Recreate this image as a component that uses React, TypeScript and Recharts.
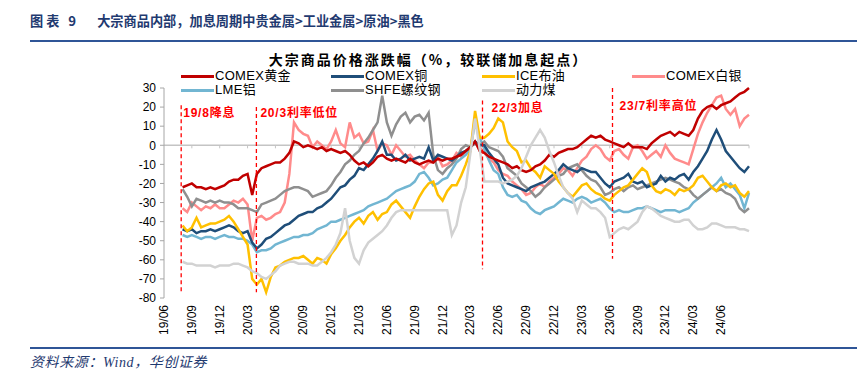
import { LineChart, Line, XAxis, YAxis, ReferenceLine } from "recharts";

// x = months after 2019-06; one point every half month from 2019-08 on
const START_MONTH = 2;
const STEP = 0.5;

const gold = [
  -22, -21, -20, -22, -22, -23, -22, -23, -22, -21, -19, -18,
  -18, -16, -15, -26, -15, -12, -11, -10, -9, -9, -7, -4,
  2, 1, -1, 0, -1, -2, -1, -3, -2, -3, -4, -3,
  -5, -8, -10, -9, -11, -9, -6, -5, -7, -8, -7, -8,
  -9, -7, -9, -10, -9, -8, -9, -7, -8, -7, -7, -6,
  -5, -3, -1, 2, -3, -4, -6, -7, -8, -9, -10, -12,
  -11, -13, -14, -13, -11, -10, -8, -5, -6, -4, -3, -2,
  -2, -1, 1, 3, 5, 4, 5, 3, 2, 1, 0, -1,
  1, -1, -1, -1, -2, 1, 3, 5, 6, 7, 5, 7,
  6, 5, 8, 14, 18, 20, 21, 19, 21, 22, 23, 25,
  27, 28, 30,
];

const copper = [
  -44, -45, -44, -46, -45, -45, -44, -45, -44, -43, -42, -43,
  -45, -46, -45, -51, -54, -52, -49, -48, -46, -44, -42, -41,
  -39, -37, -36, -35, -35, -33, -32, -30, -28, -25, -22, -21,
  -18, -16, -12, -13, -10, -7, -3, 2, -5, -5, -8, -7,
  -5, -8, -7, -6, -7, -1, -8, -5, -6, -7, -8, -6,
  -4, -3, -1, 2, 0, 0, -4, -7, -10, -17, -20, -21,
  -22, -23, -24, -22, -21, -20, -19, -17, -15, -13, -10, -12,
  -13, -14, -12, -13, -14, -14, -17, -20, -22, -19, -18, -17,
  -15, -19, -20, -19, -22, -21, -20, -16, -19, -17, -18, -16,
  -15, -18, -14, -11, -7, -3, 3, 8, 3, -3, -6, -9,
  -12, -14, -11,
];

const brent = [
  -42, -45, -43, -38, -43, -42, -41, -41, -40, -39, -37, -40,
  -44, -48, -52, -70, -73, -70, -77, -69, -64, -63, -61, -60,
  -59, -59, -58, -60, -62, -59, -60, -62, -57, -54, -50, -47,
  -43, -40, -38, -41, -37, -35, -39, -36, -35, -31, -29, -32,
  -35, -38, -32, -27, -23, -20, -19, -26, -29, -24, -21, -21,
  -16, -10, -3, 18, 4, 4, 6, 9, 14, 12, 2, -1,
  -3, -9, -8, -12, -14, -17, -11, -13, -15, -19, -22, -25,
  -27, -24, -21, -20, -23, -25, -26, -28, -29, -26, -24, -22,
  -21, -18, -15, -12, -14, -21, -24, -25, -23, -24, -26, -23,
  -24, -23, -21, -17, -16, -19, -22, -24, -21, -20, -22, -21,
  -25, -27, -24,
];

const silver = [
  -33, -35, -30, -32, -34, -32, -33, -31, -33, -33, -31, -29,
  -30, -28, -31, -50, -38, -37, -39, -38, -36, -35, -30, -15,
  12, 8, 6, 5, -1, 2, 0, -2, 2, 8, 1, -1,
  12, 4, 6, 1, 2, 8, -3, 1, 0, -5, 0, -3,
  -6, -5, -8, -10, -12, -9, -9, -6, -11, -10, -8, -4,
  -6, -3, -1, 2, -1, -4, -7, -9, -13, -15, -16, -19,
  -21, -23, -26, -25, -22, -20, -22, -19, -17, -15, -12, -13,
  -16, -12, -8, -6, -2, 0, -2, -6, -8, -3, -2, -5,
  -7, -1, 0, -3, -7, -5, -3, -6, 0, -4, -7, -8,
  -9, -10, -2, 6, 12, 17, 21, 25, 26, 19, 16, 19,
  10, 14, 16,
];

const aluminium = [
  -47, -48, -47, -48, -49, -48, -48, -49, -48, -47, -48, -48,
  -49, -49, -50, -52, -56, -55, -55, -54, -52, -51, -50, -49,
  -48, -48, -47, -47, -46, -44, -43, -42, -40, -40, -39, -38,
  -37, -36, -35, -34, -32, -31, -30, -29, -28, -26, -24, -23,
  -22, -21, -19, -15, -14, -17, -21, -20, -18, -17, -13, -9,
  -7, -5, -2, 12, 4, -2, -8, -13, -15, -22, -26, -27,
  -26, -29, -30, -33, -35, -36, -34, -33, -32, -30, -28, -29,
  -30, -28, -27, -28, -30, -29, -28, -30, -33, -35, -34, -35,
  -35, -34, -33, -33, -32, -33, -34, -35, -34, -34, -34, -35,
  -34, -33, -30, -28, -26, -24, -22, -20, -17, -22, -20, -23,
  -26, -33, -25,
];

const rebar = [
  -23, -27, -32, -28, -29, -30, -29, -30, -29, -30, -30, -31,
  -33, -33, -33, -34, -35, -31, -30, -29, -28, -26, -24, -23,
  -22, -22, -23, -24, -27, -26, -25, -24, -21, -17, -14, -10,
  -8, -5, -3, 1, 4, 8, 12, 26, 12, 5, 11, 15,
  17, 12, 15, 16, 13, 17, -5, -13, -15, -12, -10, -7,
  -2, 0, -1, 1, 0, 2, -1, -2, -3, -6, -12, -14,
  -16, -20, -22, -24, -27, -25, -22, -20, -18, -16, -15, -12,
  -11, -10, -13, -16, -18, -19, -22, -26, -25, -23, -22, -24,
  -22, -21, -23, -22, -21, -20, -19, -18, -17, -18, -19, -20,
  -22, -23, -26, -28, -26, -24, -22, -24, -23, -25, -26, -28,
  -33, -35, -33,
];

const coal = [
  -61, -62, -62, -63, -63, -63, -63, -64, -63, -63, -63, -62,
  -62, -63, -64, -66, -67, -69, -70, -68, -66, -63, -62, -61,
  -61, -62, -62, -62, -63, -63, -61, -59, -56, -52, -46, -33,
  -50, -59, -62, -55, -51, -49, -47, -45, -42, -38, -35, -34,
  -34, -34, -34, -34, -34, -34, -34, -34, -34, -34, -47, -42,
  -30, -22, -4, 14, -2, -19, -19, -19, -19, -20, -19, -18,
  -16, -12, -6, 0, 4, 8, 4, -3, -9, -16, -22, -25,
  -28, -35, -29, -31, -33, -33, -35, -38, -48, -46, -44, -43,
  -44, -42, -40, -35, -32, -33, -35, -37, -38, -39, -40, -40,
  -39, -39, -42, -44, -44, -43, -41, -41, -42, -43, -43, -43,
  -44, -44, -45,
];

const yTicks = [-80, -70, -60, -50, -40, -30, -20, -10, 0, 10, 20, 30];
const xTicks = [0, 3, 6, 9, 12, 15, 18, 21, 24, 27, 30, 33, 36, 39, 42, 45, 48, 51, 54, 57, 60];
const zeroTicks = [3, 6, 9, 12, 15, 18, 21, 24, 27, 30, 33, 36, 39, 42, 45, 48, 51, 54, 57, 60, 63];

// Fed events: position (months after 2019-06), label, dashed line extent
const eventAt = [1.85, 9.95, 34.3, 48.3];
const eventText = ["19/8降息", "20/3利率低位", "22/3加息", "23/7利率高位"];
const eventTop = [21, 20, 23.5, 30];
const eventBottom = [-78, -77, -65, -59.5];
const eventLabelOffset = [
  [2, 8],
  [4, 6],
  [9, 8],
  [7, 18],
];

const series = [
  { key: "gold", name: "COMEX黄金", color: "#C00000", values: gold },
  { key: "copper", name: "COMEX铜", color: "#1F4E79", values: copper },
  { key: "brent", name: "ICE布油", color: "#FFC000", values: brent },
  { key: "silver", name: "COMEX白银", color: "#FF8B8B", values: silver },
  { key: "aluminium", name: "LME铝", color: "#72B6D2", values: aluminium },
  { key: "rebar", name: "SHFE螺纹钢", color: "#8F8F8F", values: rebar },
  { key: "coal", name: "动力煤", color: "#D2D2D2", values: coal },
];

// bottom to top
const drawOrder = ["silver", "aluminium", "rebar", "copper", "brent", "gold", "coal"];

const rows = gold.map((_, i) => {
  const row: Record<string, number> = { t: START_MONTH + i * STEP };
  series.forEach((s) => {
    row[s.key] = s.values[i];
  });
  return row;
});

const FONT = '"Liberation Sans", Arial, "Noto Sans CJK SC", sans-serif';
const NAVY = "#1F3A70";

function monthLabel(m: number) {
  const total = 5 + m;
  const yy = 19 + Math.floor(total / 12);
  const mm = (total % 12) + 1;
  return `${yy}/${mm < 10 ? "0" + mm : mm}`;
}

function DateTick(props: any) {
  const { x, y, payload } = props;
  return (
    <text
      x={x}
      y={y}
      transform={`rotate(-90 ${x} ${y})`}
      textAnchor="end"
      dominantBaseline="central"
      fontSize={12}
      fontFamily={FONT}
      fill="#000"
    >
      {monthLabel(payload.value)}
    </text>
  );
}

function EventLabel(props: any) {
  const { viewBox, text, dx, dy } = props;
  if (!viewBox) return null;
  return (
    <text
      x={viewBox.x + dx}
      y={viewBox.y + dy}
      fill="#FF0000"
      fontSize={12}
      fontWeight="bold"
      letterSpacing={0.8}
      dominantBaseline="central"
      fontFamily={FONT}
    >
      {text}
    </text>
  );
}

const legendCols = [181, 331, 482, 632];
const legendRows = [76, 90];

export default function App() {
  return (
    <div
      style={{
        position: "absolute",
        left: 0,
        top: 0,
        width: 857,
        height: 370,
        background: "#fff",
        fontFamily: FONT,
      }}
    >
      {/* page title */}
      <div
        style={{
          position: "absolute",
          left: 30,
          top: 12,
          fontSize: 13.2,
          lineHeight: "18px",
          fontWeight: "bold",
          color: NAVY,
          whiteSpace: "pre",
          fontFamily: '"Noto Sans CJK SC", sans-serif',
        }}
      >
        <span style={{ letterSpacing: 3 }}>图表 9</span>
        <span style={{ marginLeft: 18 }}>
          大宗商品内部，加息周期中贵金属&gt;工业金属&gt;原油&gt;黑色
        </span>
      </div>
      <div
        style={{
          position: "absolute",
          left: 30,
          top: 40,
          width: 827,
          height: 2,
          background: "#2F5597",
        }}
      />

      <div style={{ position: "absolute", left: 0, top: 0 }}>
        <LineChart
          width={857}
          height={370}
          data={rows}
          margin={{ top: 88, right: 108, bottom: 32, left: 124 }}
        >
          <XAxis
            type="number"
            dataKey="t"
            domain={[0, 63]}
            ticks={xTicks}
            interval={0}
            axisLine={false}
            tickLine={false}
            tickSize={4}
            tickMargin={3}
            height={40}
            tick={<DateTick />}
          />
          <YAxis
            type="number"
            domain={[-80, 30]}
            ticks={yTicks}
            interval={0}
            width={40}
            axisLine={{ stroke: "#A6A6A6" }}
            tickLine={{ stroke: "#A6A6A6" }}
            tickSize={4}
            tickMargin={4}
            tick={{ fill: "#000", fontSize: 12, fontFamily: FONT }}
          />
          <ReferenceLine y={0} stroke="#C4C4C4" strokeWidth={1.5} />
          {zeroTicks.map((m) => (
            <ReferenceLine
              key={"zt" + m}
              segment={[
                { x: m, y: 0 },
                { x: m, y: -1.6 },
              ]}
              stroke="#C4C4C4"
              strokeWidth={1}
            />
          ))}
          {drawOrder.map((k) => {
            const s = series.find((x) => x.key === k)!;
            return (
              <Line
                key={s.key}
                type="linear"
                dataKey={s.key}
                name={s.name}
                stroke={s.color}
                strokeWidth={2.5}
                dot={false}
                activeDot={false}
                isAnimationActive={false}
              />
            );
          })}
          {eventAt.map((m, i) => (
            <ReferenceLine
              key={"ev" + i}
              segment={[
                { x: m, y: eventTop[i] },
                { x: m, y: eventBottom[i] },
              ]}
              stroke="#FF0000"
              strokeWidth={1.3}
              strokeDasharray="4 3"
              label={
                <EventLabel
                  text={eventText[i]}
                  dx={eventLabelOffset[i][0]}
                  dy={eventLabelOffset[i][1]}
                />
              }
            />
          ))}
        </LineChart>
      </div>

      {/* chart title */}
      <div
        style={{
          position: "absolute",
          left: 0,
          top: 52,
          width: 857,
          lineHeight: "15px",
          textAlign: "center",
          fontSize: 14,
          fontWeight: "bold",
          letterSpacing: 2,
          color: "#000",
          fontFamily: '"Noto Sans CJK SC", sans-serif',
        }}
      >
        大宗商品价格涨跌幅（%，较联储加息起点）
      </div>

      {/* legend */}
      {series.map((s, i) => {
        const left = legendCols[i % 4];
        const top = legendRows[Math.floor(i / 4)];
        return (
          <div
            key={s.key}
            style={{
              position: "absolute",
              left,
              top: top - 7,
              height: 14,
              display: "flex",
              alignItems: "center",
              whiteSpace: "nowrap",
            }}
          >
            <div style={{ width: 33, height: 3, background: s.color }} />
            <span
              style={{
                marginLeft: 1,
                fontSize: 13,
                lineHeight: "14px",
                letterSpacing: 0.3,
                color: "#000",
              }}
            >
              {s.name}
            </span>
          </div>
        );
      })}

      {/* source */}
      <div
        style={{
          position: "absolute",
          left: 30,
          top: 347,
          width: 827,
          height: 2,
          background: "#2F5597",
        }}
      />
      <div
        style={{
          position: "absolute",
          left: 30,
          top: 351,
          fontSize: 14,
          letterSpacing: 0.6,
          fontStyle: "italic",
          color: NAVY,
          fontFamily: '"Liberation Serif", "Noto Sans CJK SC", serif',
        }}
      >
        资料来源：Wind，华创证券
      </div>
    </div>
  );
}
